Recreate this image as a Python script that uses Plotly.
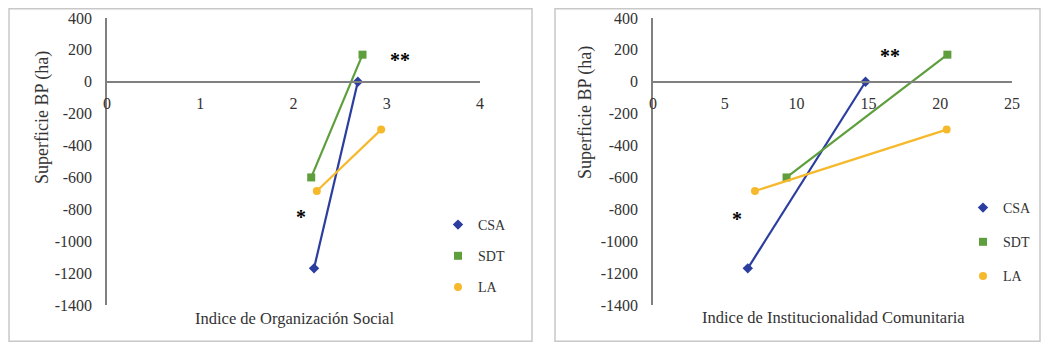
import plotly.graph_objects as go

# ---- data ----
series = ["CSA", "SDT", "LA"]
org_social_x = {"CSA": [2.22, 2.69], "SDT": [2.19, 2.74], "LA": [2.25, 2.94]}
inst_com_x = {"CSA": [6.6, 14.8], "SDT": [9.3, 20.5], "LA": [7.1, 20.45]}
superficie_y = {"CSA": [-1170, 0], "SDT": [-600, 170], "LA": [-685, -300]}
y_ticks = [400, 200, 0, -200, -400, -600, -800, -1000, -1200, -1400]
x_ticks_left = [0, 1, 2, 3, 4]
x_ticks_right = [0, 5, 10, 15, 20, 25]

colors = {"CSA": "#2B3D9E", "SDT": "#5E9E3C", "LA": "#F6B92C"}
symbols = {"CSA": "diamond", "SDT": "square", "LA": "circle"}

FONT = "Liberation Serif, Times New Roman, serif"
TXT = "#333333"

# page offset (browser body margin) and figure size
OFF = 8
W, H = 1050 - 2 * OFF, 350 - 2 * OFF


def px(vx):
    return min(max((vx - OFF) / W, 0.001), 0.999)


def py(vy):
    return min(max(1 - (vy - OFF) / H, 0.002), 0.998)


fig = go.Figure()

for s in series:
    fig.add_trace(go.Scatter(x=org_social_x[s], y=superficie_y[s], mode="lines+markers",
                             line=dict(color=colors[s], width=2.2),
                             marker=dict(symbol=symbols[s], size=8, color=colors[s]),
                             xaxis="x", yaxis="y", showlegend=False))
    fig.add_trace(go.Scatter(x=inst_com_x[s], y=superficie_y[s], mode="lines+markers",
                             line=dict(color=colors[s], width=2.2),
                             marker=dict(symbol=symbols[s], size=8, color=colors[s]),
                             xaxis="x2", yaxis="y2", showlegend=False))
# legend entries (markers only)
for s in series:
    for lg, xa, ya in (("legend", "x", "y"), ("legend2", "x2", "y2")):
        fig.add_trace(go.Scatter(x=[None], y=[None], mode="markers", name=s,
                                 marker=dict(symbol=symbols[s], size=8, color=colors[s]),
                                 xaxis=xa, yaxis=ya, legend=lg, legendgroup=s + lg,
                                 showlegend=True))

ydom = [py(305), py(18)]
xpos = ydom[0] + (0 - (-1400)) / 1800 * (ydom[1] - ydom[0])

common_x = dict(showgrid=False, zeroline=False, showline=True, linecolor="#808080",
                linewidth=1.5, ticks="", anchor="free", position=xpos,
                tickfont=dict(family=FONT, size=16, color=TXT), ticklabelstandoff=7)
common_y = dict(showgrid=False, zeroline=False, showline=True, linecolor="#808080",
                linewidth=1.5, ticks="", range=[-1400, 400], tickvals=y_ticks,
                ticktext=[str(v) for v in y_ticks],
                domain=ydom, tickfont=dict(family=FONT, size=16, color=TXT),
                ticklabelstandoff=10)

title_font = dict(family=FONT, size=16.5, color=TXT)
ytitle_font = dict(family=FONT, size=18, color=TXT)
star_font = dict(family=FONT, size=20, color="black")

fig.update_layout(
    width=W, height=H,
    margin=dict(l=0, r=0, t=0, b=0, autoexpand=False),
    paper_bgcolor="white", plot_bgcolor="white",
    font=dict(family=FONT, color=TXT),
    xaxis=dict(common_x, domain=[px(107), px(480)], range=[0, 4], tickvals=x_ticks_left),
    yaxis=dict(common_y, anchor="x"),
    xaxis2=dict(common_x, domain=[px(653), px(1012)], range=[0, 25], tickvals=x_ticks_right),
    yaxis2=dict(common_y, anchor="x2"),
    legend=dict(x=px(438), y=py(209), xanchor="left", yanchor="top", tracegroupgap=10,
                font=dict(family=FONT, size=14, color=TXT), bgcolor="rgba(0,0,0,0)"),
    legend2=dict(x=px(963), y=py(192), xanchor="left", yanchor="top", tracegroupgap=13,
                 font=dict(family=FONT, size=14, color=TXT), bgcolor="rgba(0,0,0,0)"),
    shapes=[
        dict(type="rect", xref="paper", yref="paper", x0=px(5), x1=px(532),
             y0=py(343), y1=py(5), line=dict(color="#c8c8c8", width=1.5)),
        dict(type="rect", xref="paper", yref="paper", x0=px(555), x1=px(1040),
             y0=py(343), y1=py(5), line=dict(color="#c8c8c8", width=1.5)),
    ],
    annotations=[
        dict(text="Indice de Organización Social", xref="paper", yref="paper",
             x=px(294), y=py(318), xanchor="center", yanchor="middle",
             showarrow=False, font=title_font),
        dict(text="Indice de Institucionalidad Comunitaria", xref="paper", yref="paper",
             x=px(833), y=py(317), xanchor="center", yanchor="middle",
             showarrow=False, font=title_font),
        dict(text="Superficie BP (ha)", xref="paper", yref="paper", textangle=-90,
             x=px(42), y=py(118), xanchor="center", yanchor="middle",
             showarrow=False, font=ytitle_font),
        dict(text="Superficie BP (ha)", xref="paper", yref="paper", textangle=-90,
             x=px(585), y=py(113), xanchor="center", yanchor="middle",
             showarrow=False, font=ytitle_font),
        dict(text="<b>*</b>", xref="x", yref="y", x=2.08, y=-845, showarrow=False,
             font=star_font),
        dict(text="<b>**</b>", xref="x", yref="y", x=3.14, y=138, showarrow=False,
             font=star_font),
        dict(text="<b>*</b>", xref="x2", yref="y2", x=5.85, y=-862, showarrow=False,
             font=star_font),
        dict(text="<b>**</b>", xref="x2", yref="y2", x=16.5, y=164, showarrow=False,
             font=star_font),
    ],
)

fig.write_html("out.html", config={"displayModeBar": False})
